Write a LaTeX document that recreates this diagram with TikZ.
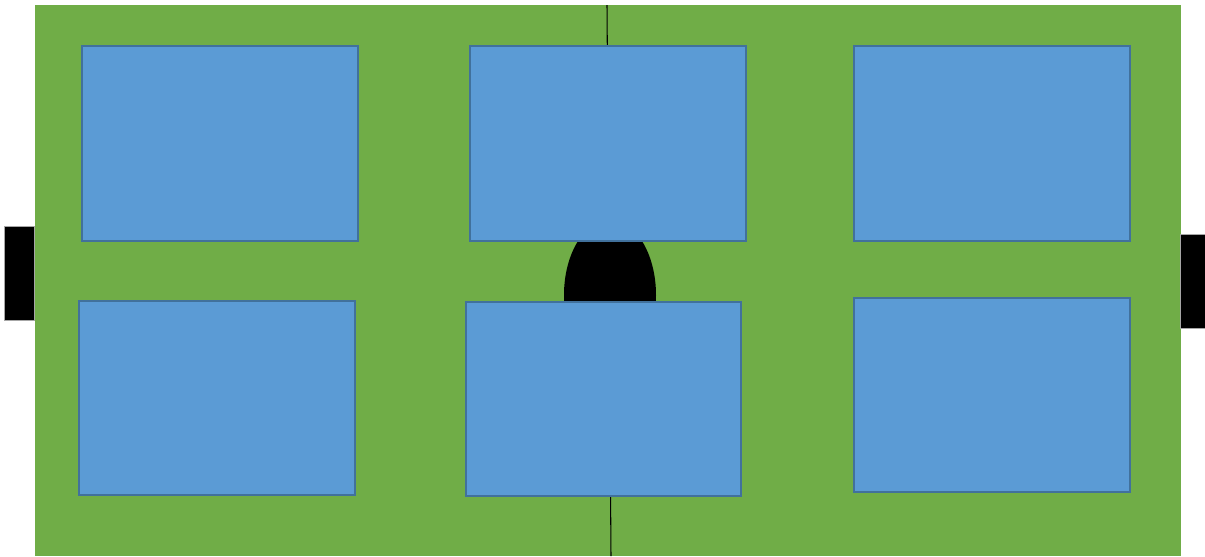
\documentclass[tikz,border=0pt]{standalone}
\usepackage{tikz}
\definecolor{rasen}{HTML}{70AD47}
\definecolor{platteb}{HTML}{5B9BD5}
\definecolor{rand}{HTML}{41719C}
\definecolor{hgrau}{HTML}{A6A6A6}
\tikzset{
  feld/.style={fill=rasen,draw=none},
  platte/.style={fill=platteb,draw=rand,line width=1.1pt},
  tor/.style={fill=black,draw=hgrau,line width=0.4pt},
  mitte/.style={black,line width=0.6pt},
}

\begin{document}
\begin{tikzpicture}[x=0.02cm,y=-0.02cm]
  \useasboundingbox (0,0) rectangle (1205,556);
  \fill[feld] (35,5) rectangle (1181,556);
  \draw[mitte] (607,5)--(611,556);
  \fill[black] (610,295) ellipse (46 and 75);
  \draw[platte] (82,46) rectangle (358,241);
  \draw[platte] (470,46) rectangle (746,241);
  \draw[platte] (854,46) rectangle (1130,241);
  \draw[platte] (79,301) rectangle (355,495);
  \draw[platte] (466,302) rectangle (741,496);
  \draw[platte] (854,298) rectangle (1130,492);
  \draw[tor] (4,226) rectangle (34,320);
  \draw[tor] (1180,234) rectangle (1205,328);
\end{tikzpicture}
\end{document}
